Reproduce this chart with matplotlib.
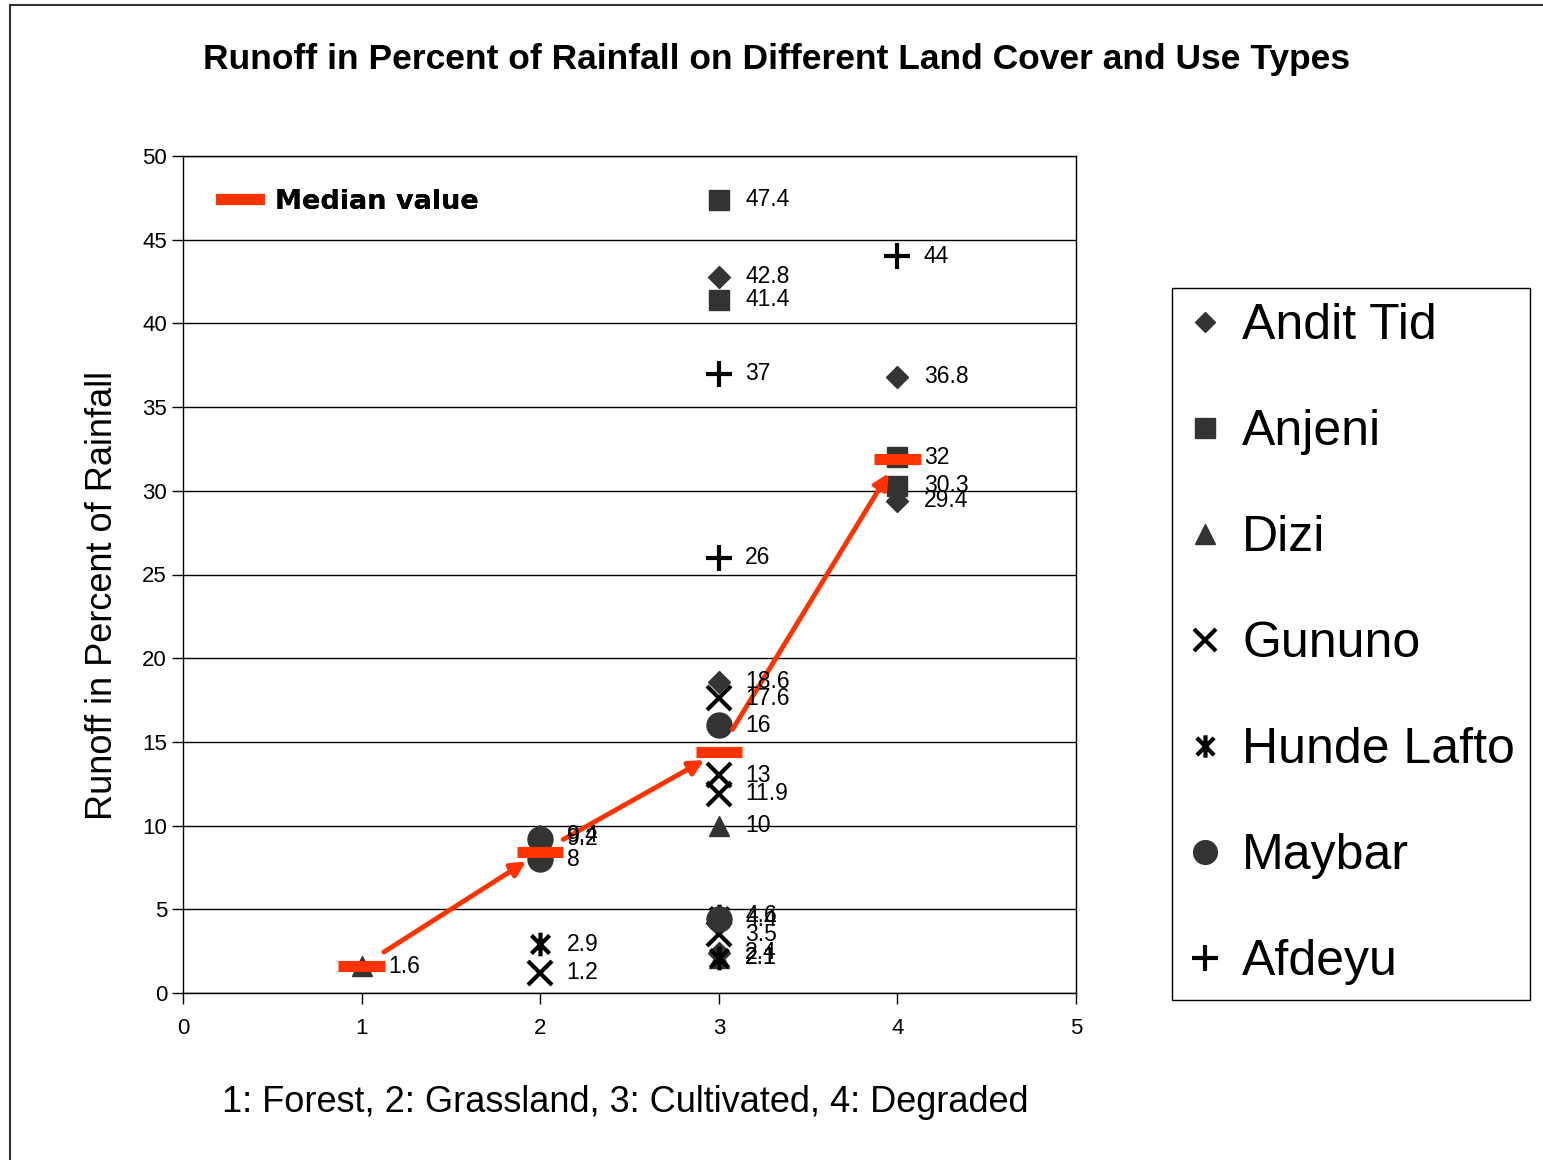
import numpy as np
import matplotlib
matplotlib.use("Agg")
from matplotlib import pyplot as plt
from matplotlib.lines import Line2D
from matplotlib.path import Path
from matplotlib.patches import Rectangle

plt.rcParams['font.family'] = ['Liberation Sans', 'DejaVu Sans']

# ---- data: (land cover class, runoff %) per site ----
andit_x = [2, 3, 3, 3, 4, 4]
andit_y = [9.4, 42.8, 18.6, 2.4, 36.8, 29.4]
anjeni_x = [3, 3, 4, 4]
anjeni_y = [47.4, 41.4, 32, 30.3]
dizi_x = [1, 3, 3]
dizi_y = [1.6, 10, 2.1]
gununo_x = [2, 3, 3, 3, 3]
gununo_y = [1.2, 17.6, 13, 11.9, 3.5]
hunde_x = [2, 3, 3]
hunde_y = [2.9, 4.6, 2.1]
maybar_x = [2, 2, 3, 3]
maybar_y = [9.2, 8, 16, 4.4]
afdeyu_x = [3, 3, 4]
afdeyu_y = [37, 26, 44]

median_x = [1, 2, 3, 4]
median_y = [1.6, 8.4, 14.4, 31.9]

red = '#ff3300'
mk = '#333333'

# X with a vertical bar, like the Excel asterisk marker
star = Path([(-1, -1), (1, 1), (-1, 1), (1, -1), (0, -1.3), (0, 1.3)],
            [Path.MOVETO, Path.LINETO] * 3)

series = [
    ("Andit Tid", andit_x, andit_y, dict(marker='D', ms=11, color=mk)),
    ("Anjeni", anjeni_x, anjeni_y, dict(marker='s', ms=15, color=mk)),
    ("Dizi", dizi_x, dizi_y, dict(marker='^', ms=15, color=mk)),
    ("Gununo", gununo_x, gununo_y, dict(marker='x', ms=17, mew=3, color='black')),
    ("Hunde Lafto", hunde_x, hunde_y, dict(marker=star, ms=17, mew=3, color='black')),
    ("Maybar", maybar_x, maybar_y, dict(marker='o', ms=18, color=mk)),
    ("Afdeyu", afdeyu_x, afdeyu_y, dict(marker='+', ms=19, mew=3, color='black')),
]

fig = plt.figure(figsize=(15.43, 11.6), dpi=100)
ax = fig.add_axes([183 / 1543, 1 - 993 / 1160, 893 / 1543, 837 / 1160])

handles = []
for name, xs, ys, st in series:
    h, = ax.plot(xs, ys, linestyle='none', label=name, zorder=3, **st)
    handles.append(h)
    for x, y in zip(xs, ys):
        ax.annotate(f"{y:g}", (x, y), xytext=(19, 0), textcoords='offset points',
                    va='center', ha='left', fontsize=16.5, zorder=5)

# median bars
ax.hlines(median_y, np.array(median_x) - 0.13, np.array(median_x) + 0.13,
          color=red, lw=8, zorder=4)

# arrows between medians
for i in range(len(median_x) - 1):
    ax.annotate("", xy=(median_x[i + 1], median_y[i + 1]),
                xytext=(median_x[i], median_y[i]),
                arrowprops=dict(arrowstyle='-|>', color=red, lw=3.5,
                                mutation_scale=22, shrinkA=19, shrinkB=12),
                zorder=4)

ax.set_xlim(0, 5)
ax.set_ylim(0, 50)
ax.set_xticks(range(6))
ax.set_yticks(range(0, 51, 5))
ax.tick_params(direction='out', length=8, labelsize=16, width=1)
ax.tick_params(axis='x', pad=10)
ax.yaxis.grid(True, color='black', lw=1)
ax.set_axisbelow(True)
for s in ax.spines.values():
    s.set_linewidth(1)

med_leg = ax.legend([Line2D([], [], color=red, lw=8)], ["Median value"],
                    loc='upper left', frameon=False, handlelength=1.4,
                    handletextpad=0.6, bbox_to_anchor=(0.015, 0.99),
                    prop=dict(family='DejaVu Sans', weight='bold', size=19.5))
ax.add_artist(med_leg)

fig.legend(handles=handles, loc='center', bbox_to_anchor=(1351 / 1543, 1 - 644 / 1160),
           fontsize=36, markerscale=0.95, frameon=True, fancybox=False,
           edgecolor='black', framealpha=1, labelspacing=1.2, handlelength=0.7,
           handletextpad=0.4, borderpad=0.3, borderaxespad=0)

fig.text(777 / 1543, 1 - 60 / 1160,
         "Runoff in Percent of Rainfall on Different Land Cover and Use Types",
         ha='center', va='center', fontsize=25.5, weight='bold')
fig.text(103 / 1543, 1 - 596 / 1160, "Runoff in Percent of Rainfall",
         rotation=90, ha='center', va='center', fontsize=26)
fig.text(625 / 1543, 1 - 1103 / 1160,
         "1: Forest, 2: Grassland, 3: Cultivated, 4: Degraded",
         ha='center', va='center', fontsize=26)

fig.patches.append(Rectangle((10 / 1543, -0.1), 1.2, 0.1 + 1 - 5 / 1160,
                             transform=fig.transFigure, fill=False,
                             edgecolor='#333333', lw=1.5))

fig.savefig("out.png", dpi=100)
